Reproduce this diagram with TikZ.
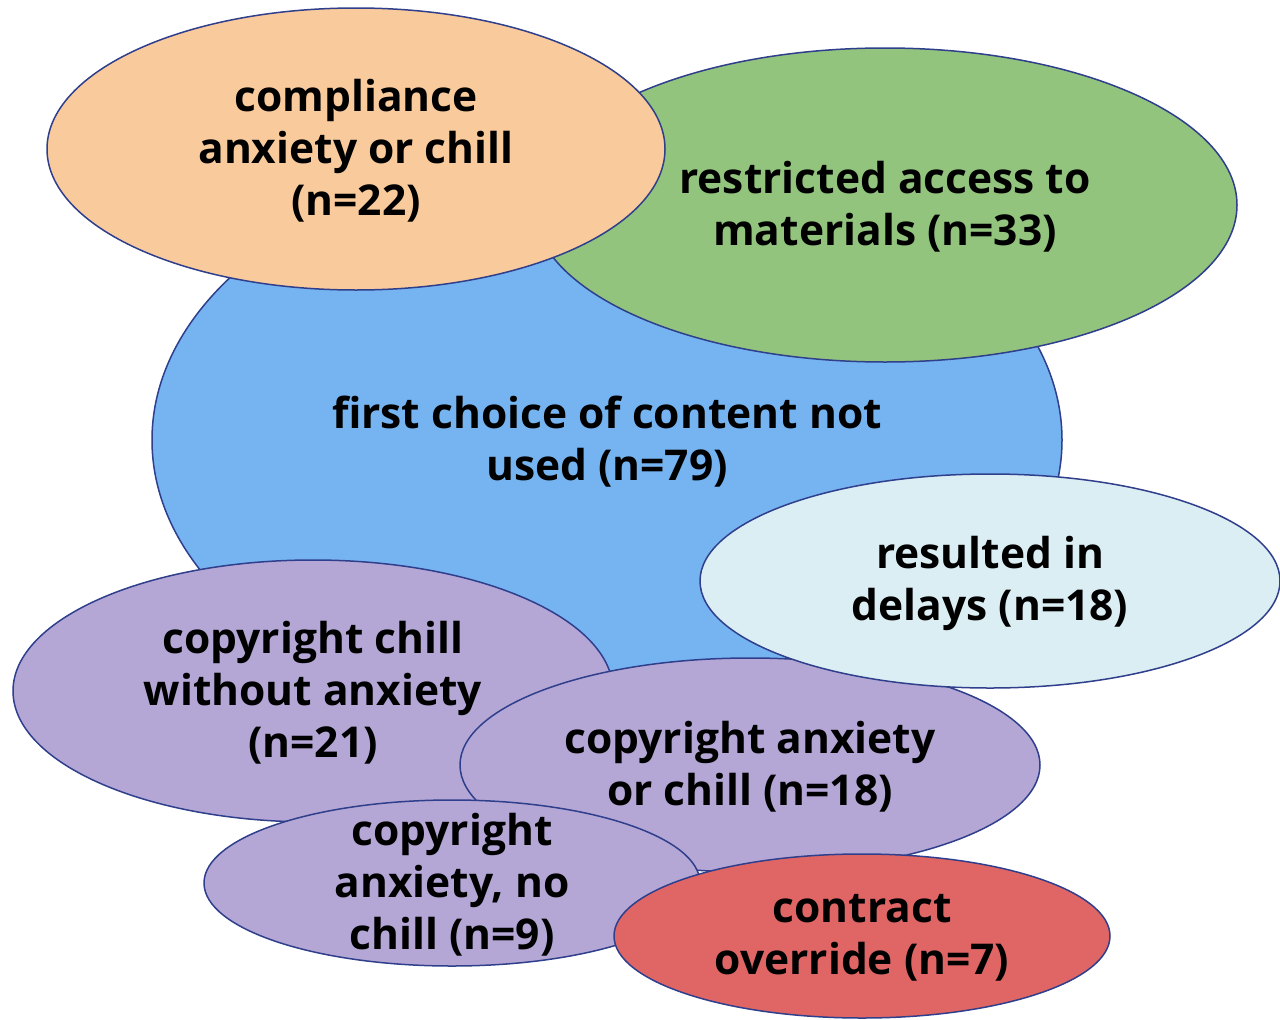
\documentclass[tikz,border=0pt]{standalone}
\usepackage{fontspec}
\setmainfont{Open Sans}
\usetikzlibrary{shapes.geometric}
\definecolor{edgeblue}{HTML}{2F3F8C}
\definecolor{cblue}{HTML}{75B4F1}
\definecolor{cgreen}{HTML}{92C47D}
\definecolor{corange}{HTML}{F9CB9C}
\definecolor{clight}{HTML}{DBEEF4}
\definecolor{cpurple}{HTML}{B4A7D6}
\definecolor{cred}{HTML}{E06666}
\tikzset{
  blob/.style={ellipse, draw=edgeblue, line width=1.5pt, inner sep=0pt, outer sep=0pt},
  lbl/.style={align=center, font=\fontsize{42.5}{52}\selectfont\bfseries, text=black, inner sep=0pt}
}
\begin{document}
\begin{tikzpicture}[x=1pt,y=-1pt]
\useasboundingbox[fill=white] (0,0) rectangle (1280,1020);
\node[blob, fill=cblue, minimum width=910pt, minimum height=580pt] (e1) at (607,440) {};
\node[blob, fill=cgreen, minimum width=704pt, minimum height=314pt] (e2) at (885,205) {};
\node[blob, fill=corange, minimum width=618pt, minimum height=282pt] (e3) at (356,149) {};
\node[blob, fill=cpurple, minimum width=600pt, minimum height=262pt] (e5) at (313,691) {};
\node[blob, fill=cpurple, minimum width=580pt, minimum height=214pt] (e6) at (750,765) {};
\node[blob, fill=clight, minimum width=580pt, minimum height=214pt] (e4) at (990,581) {};
\node[blob, fill=cpurple, minimum width=496pt, minimum height=166pt] (e7) at (452,883) {};
\node[blob, fill=cred, minimum width=496pt, minimum height=164pt] (e8) at (862,936) {};
\node[lbl] (t1) at ([yshift=-2pt]e1) {first choice of content not\\used (n=79)};
\node[lbl] (t2) at ([yshift=-2pt]e2) {restricted access to\\materials (n=33)};
\node[lbl] (t3) at ([yshift=-2pt]e3) {compliance\\anxiety or chill\\(n=22)};
\node[lbl] (t4) at ([yshift=-2pt]e4) {resulted in\\delays (n=18)};
\node[lbl] (t5) at ([yshift=-2pt]e5) {copyright chill\\without anxiety\\(n=21)};
\node[lbl] (t6) at ([yshift=-2pt]e6) {copyright anxiety\\or chill (n=18)};
\node[lbl] (t7) at ([yshift=-2pt]e7) {copyright\\anxiety, no\\chill (n=9)};
\node[lbl] (t8) at ([yshift=-2pt]e8) {contract\\override (n=7)};
\end{tikzpicture}
\end{document}
